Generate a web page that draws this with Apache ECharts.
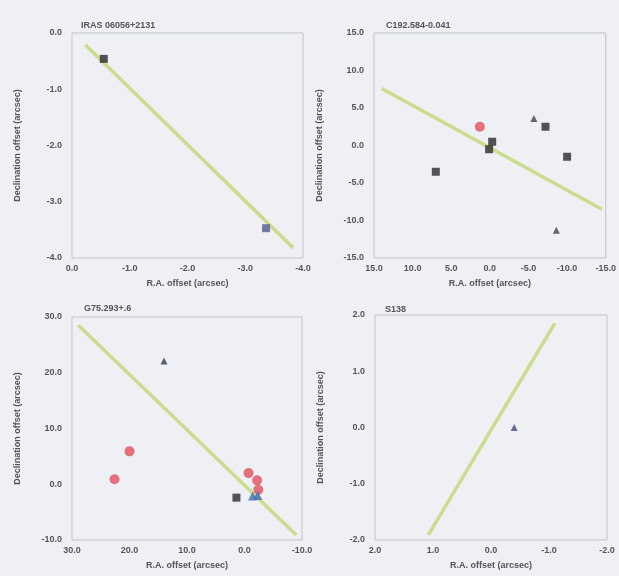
<!DOCTYPE html>
<html>
<head>
<meta charset="utf-8">
<script src="https://cdn.jsdelivr.net/npm/echarts@6/dist/echarts.min.js"></script>
<style>
html, body { margin: 0; padding: 0; background: #eef0f4; }
#chart { width: 619px; height: 576px; }
</style>
</head>
<body>
<div id="chart"></div>
<script>
// panel titles and axis ranges
var titles = ['IRAS 06056+2131', 'C192.584-0.041', 'G75.293+.6', 'S138'];
var xRanges = [[-4, 0, 1], [-15, 15, 5], [-10, 30, 10], [-2, 2, 1]];
var yRanges = [[-4, 0, 1], [-15, 15, 5], [-10, 30, 10], [-2, 2, 1]];

// fitted lines (end points)
var fit1 = [[-0.23, -0.21], [-3.83, -3.82]];
var fit2 = [[14.0, 7.6], [-14.5, -8.5]];
var fit3 = [[28.9, 28.5], [-9.0, -9.1]];
var fit4 = [[1.08, -1.91], [-1.1, 1.85]];

// panel 1
var p1Black = [[-0.55, -0.46]];
var p1Blue = [[-3.36, -3.47]];
// panel 2
var p2Black = [[7.0, -3.5], [-0.3, 0.5], [0.1, -0.5], [-7.2, 2.5], [-10.0, -1.5]];
var p2Red = [[1.3, 2.5]];
var p2Tri = [[-5.7, 3.6], [-8.6, -11.3]];
// panel 3
var p3Tri = [[14.0, 22.1]];
var p3Red = [[20.0, 5.9], [22.6, 0.9], [-0.7, 2.0], [-2.2, 0.7], [-2.4, -1.0]];
var p3Black = [[1.4, -2.4]];
var p3Blue = [[-1.4, -2.1], [-2.3, -2.0]];
// panel 4
var p4Tri = [[-0.4, 0.0]];

var grids = [
    { left: 72, top: 33, width: 231, height: 225 },
    { left: 374, top: 33, width: 232, height: 225 },
    { left: 72, top: 317, width: 230, height: 223 },
    { left: 375, top: 315, width: 232, height: 225 }
];
var titlePos = [[76, 16], [381, 16], [79, 299], [380, 300]];

var txt = { color: '#555', fontSize: 9, fontFamily: 'Liberation Sans', fontWeight: 'bold' };

var chart = echarts.init(document.getElementById('chart'));

var option = {
    backgroundColor: '#eef0f4',
    animation: false,
    title: titles.map(function(t, i) {
        return {
            text: t,
            left: titlePos[i][0],
            top: titlePos[i][1],
            textStyle: { color: '#555', fontSize: 9, fontFamily: 'Liberation Sans', fontWeight: 'bold' }
        };
    }),
    grid: grids.map(function(g) {
        return {
            left: g.left, top: g.top, width: g.width, height: g.height,
            show: true, borderColor: '#bfc3ca', borderWidth: 1, backgroundColor: 'transparent'
        };
    }),
    xAxis: xRanges.map(function(r, i) {
        return {
            gridIndex: i, type: 'value', inverse: true,
            min: r[0], max: r[1], interval: r[2],
            name: 'R.A. offset (arcsec)', nameLocation: 'middle', nameGap: 21,
            nameTextStyle: txt,
            axisLine: { show: false }, axisTick: { show: false }, splitLine: { show: false },
            axisLabel: { margin: 6, formatter: function(v) { return v.toFixed(1); },
                color: '#555', fontSize: 9, fontFamily: 'Liberation Sans', fontWeight: 'bold' }
        };
    }),
    yAxis: yRanges.map(function(r, i) {
        return {
            gridIndex: i, type: 'value',
            min: r[0], max: r[1], interval: r[2],
            name: 'Declination offset (arcsec)', nameLocation: 'middle', nameGap: 50,
            nameTextStyle: txt,
            axisLine: { show: false }, axisTick: { show: false }, splitLine: { show: false },
            axisLabel: { margin: 10, formatter: function(v) { return v.toFixed(1); },
                color: '#555', fontSize: 9, fontFamily: 'Liberation Sans', fontWeight: 'bold' }
        };
    }),
    series: []
};

function addLine(idx, data) {
    option.series.push({
        type: 'line', xAxisIndex: idx, yAxisIndex: idx, data: data,
        showSymbol: false, lineStyle: { color: '#cbdc8e', width: 3.5 }, z: 1
    });
}
function addPoints(idx, data, symbol, size, color) {
    option.series.push({
        type: 'scatter', xAxisIndex: idx, yAxisIndex: idx, data: data,
        symbol: symbol, symbolSize: size, itemStyle: { color: color }, z: 3
    });
}

addLine(0, fit1);
addLine(1, fit2);
addLine(2, fit3);
addLine(3, fit4);

addPoints(0, p1Black, 'rect', 8, '#2b2b2e');
addPoints(0, p1Blue, 'rect', 8, '#55578f');

addPoints(1, p2Black, 'rect', 8, '#2b2b2e');
addPoints(1, p2Red, 'circle', 10, '#e0505e');
addPoints(1, p2Tri, 'triangle', 7, '#3f4452');

addPoints(2, p3Tri, 'triangle', 7, '#363a50');
addPoints(2, p3Red, 'circle', 10, '#e0505e');
addPoints(2, p3Black, 'rect', 8, '#2b2b2e');
addPoints(2, p3Blue, 'triangle', 9, '#3f6cb5');

addPoints(3, p4Tri, 'triangle', 7, '#3f4a7a');

chart.setOption(option);
</script>
</body>
</html>
